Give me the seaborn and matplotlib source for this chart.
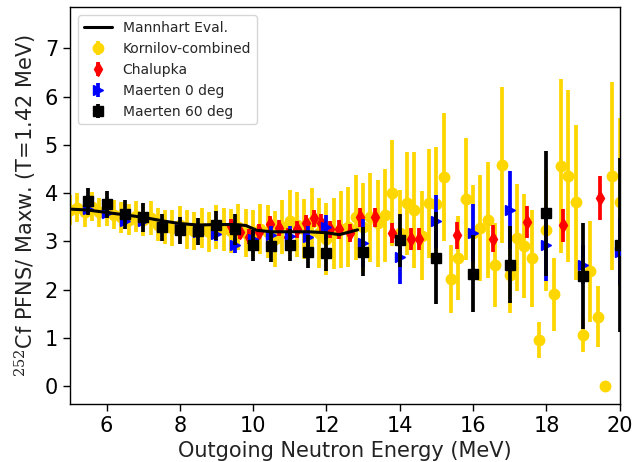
import numpy as np
import pandas as pd
import matplotlib
matplotlib.use("Agg")
import matplotlib.pyplot as plt
import seaborn as sns

# ---------------- data ----------------
mann_e = [5.0, 5.5, 6.0, 6.5, 7.0, 7.5, 8.0, 8.5, 9.0, 9.5, 9.8, 10.1, 10.5,
          11.0, 11.5, 12.0, 12.35, 12.85]
mann_r = [3.67, 3.65, 3.60, 3.55, 3.50, 3.43, 3.37, 3.34, 3.35, 3.35, 3.33, 3.23,
          3.20, 3.20, 3.20, 3.18, 3.14, 3.24]

korn_e = [5.0, 5.2, 5.4, 5.6, 5.8, 6.0, 6.2, 6.4, 6.6, 6.8, 7.0, 7.2, 7.4, 7.6, 7.8,
          8.0, 8.2, 8.4, 8.6, 8.8, 9.0, 9.2, 9.4, 9.6, 9.8, 10.0, 10.2, 10.4, 10.6,
          10.8, 11.0, 11.2, 11.4, 11.6, 11.8, 12.0, 12.2, 12.4, 12.6, 12.8, 13.0,
          13.2, 13.4, 13.6, 13.8, 14.0, 14.2, 14.4, 14.6, 14.8, 15.0, 15.2, 15.4,
          15.6, 15.8, 16.0, 16.2, 16.4, 16.6, 16.8, 17.0, 17.2, 17.4, 17.6, 17.8,
          18.0, 18.2, 18.4, 18.6, 18.8, 19.0, 19.2, 19.4, 19.6, 19.8, 20.0]
korn_r = [3.65, 3.70, 3.60, 3.72, 3.60, 3.62, 3.55, 3.50, 3.45, 3.52, 3.45, 3.48,
          3.35, 3.30, 3.28, 3.35, 3.25, 3.22, 3.28, 3.20, 3.30, 3.25, 3.22, 3.30,
          3.18, 3.15, 3.25, 3.20, 3.05, 3.30, 3.42, 3.35, 3.25, 3.40, 3.17, 3.05,
          3.17, 3.25, 3.30, 3.50, 3.29, 3.50, 3.38, 3.54, 4.00, 3.17, 3.79, 3.65,
          3.12, 3.79, 3.78, 4.33, 2.22, 2.66, 3.88, 3.17, 3.27, 3.44, 2.52, 4.58,
          2.31, 3.08, 2.90, 2.65, 0.96, 3.23, 1.90, 4.56, 4.35, 3.81, 1.06, 2.38,
          1.44, 0.00, 4.35, 3.81]
korn_err = [0.32, 0.30, 0.30, 0.30, 0.30, 0.30, 0.30, 0.32, 0.32, 0.32, 0.33, 0.35,
            0.35, 0.35, 0.37, 0.38, 0.40, 0.40, 0.42, 0.42, 0.45, 0.45, 0.45, 0.48,
            0.50, 0.50, 0.52, 0.55, 0.58, 0.56, 0.65, 0.68, 0.62, 0.70, 0.73, 0.75,
            0.74, 0.80, 0.82, 0.88, 0.93, 0.92, 0.90, 0.96, 1.10, 0.90, 1.07, 1.20,
            0.92, 1.13, 1.18, 1.33, 0.71, 0.87, 1.26, 1.00, 1.10, 1.20, 0.87, 1.62,
            0.80, 1.10, 1.08, 1.00, 0.38, 1.25, 0.75, 1.81, 1.78, 1.60, 0.35, 1.05,
            0.63, 0.00, 1.95, 1.75]

chal_e = [9.4, 9.65, 9.9, 10.15, 10.45, 10.7, 10.95, 11.2, 11.45, 11.65, 11.85,
          12.1, 12.35, 12.65, 12.92, 13.33, 13.8, 14.3, 14.52, 15.56, 16.54, 17.46,
          18.44, 19.45]
chal_r = [3.32, 3.20, 3.10, 3.20, 3.36, 3.28, 3.10, 3.25, 3.38, 3.48, 3.38, 3.25,
          3.25, 3.17, 3.50, 3.50, 3.17, 3.05, 3.05, 3.13, 3.06, 3.40, 3.33, 3.90]
chal_err = [0.15, 0.15, 0.15, 0.16, 0.16, 0.16, 0.17, 0.17, 0.17, 0.18, 0.18, 0.18,
            0.19, 0.19, 0.20, 0.20, 0.21, 0.22, 0.22, 0.28, 0.28, 0.33, 0.35, 0.45]

m0_e = [5.5, 6.0, 6.5, 7.0, 7.5, 8.0, 8.5, 9.0, 9.5, 10.0, 10.5, 11.0, 11.5, 12.0,
        13.0, 14.0, 15.0, 16.0, 17.0, 18.0, 19.0, 20.0]
m0_r = [3.68, 3.58, 3.42, 3.42, 3.30, 3.25, 3.20, 3.15, 2.92, 3.06, 3.14, 3.12,
        3.10, 3.30, 2.96, 2.67, 3.42, 3.17, 3.65, 2.92, 2.52, 2.79]
m0_err = [0.10, 0.10, 0.11, 0.11, 0.12, 0.12, 0.13, 0.14, 0.15, 0.17, 0.18, 0.20,
          0.22, 0.25, 0.50, 0.55, 0.55, 0.60, 0.80, 0.75, 0.40, 0.70]

m60_e = [5.5, 6.0, 6.5, 7.0, 7.5, 8.0, 8.5, 9.0, 9.5, 10.0, 10.5, 11.0, 11.5, 12.0,
         13.0, 14.0, 15.0, 16.0, 17.0, 18.0, 19.0, 20.0]
m60_r = [3.83, 3.77, 3.56, 3.50, 3.29, 3.23, 3.21, 3.33, 3.25, 2.92, 2.90, 2.92,
         2.79, 2.77, 2.79, 3.02, 2.65, 2.33, 2.52, 3.58, 2.29, 2.93]
m60_err = [0.28, 0.28, 0.30, 0.30, 0.28, 0.28, 0.28, 0.30, 0.32, 0.32, 0.32, 0.33,
           0.35, 0.38, 0.50, 0.55, 0.95, 0.80, 0.80, 1.30, 1.10, 1.80]

# ---------------- plot ----------------
sns.set_theme(style="ticks")
plt.rcParams["font.family"] = ["DejaVu Sans"]
plt.rcParams["mathtext.fontset"] = "dejavuserif"

fig = plt.figure(figsize=(6.35, 4.62), dpi=100)
ax = fig.add_axes([0.110, 0.1255, 0.866, 0.8595])

mann_df = pd.DataFrame({"E": mann_e, "R": mann_r})
sns.lineplot(data=mann_df, x="E", y="R", ax=ax, color="black", linewidth=2.2,
             label="Mannhart Eval.", zorder=4.5, sort=False)

ekw = dict(ls="none", elinewidth=2.7, capsize=0)
ax.errorbar(korn_e, korn_r, yerr=korn_err, fmt="o", color="gold", ms=7.5,
            label="Kornilov-combined", zorder=2, **ekw)
ax.errorbar(chal_e, chal_r, yerr=chal_err, fmt="d", color="red", ms=7.5,
            label="Chalupka", zorder=3, **ekw)
ax.errorbar(m0_e, m0_r, yerr=m0_err, fmt=">", color="blue", ms=7.5,
            label="Maerten 0 deg", zorder=4, **ekw)
ax.errorbar(m60_e, m60_r, yerr=m60_err, fmt="s", color="black", ms=7.5,
            label="Maerten 60 deg", zorder=5, **ekw)

ax.set_xlim(5, 20)
ax.set_ylim(-0.37, 7.86)
ax.set_xticks([6, 8, 10, 12, 14, 16, 18, 20])
ax.set_yticks([0, 1, 2, 3, 4, 5, 6, 7])
ax.tick_params(labelsize=15, length=5, width=1, color="black", labelcolor="black")
for s in ax.spines.values():
    s.set_color("black")
    s.set_linewidth(1.0)
ax.set_xlabel("Outgoing Neutron Energy (MeV)", fontsize=15, color="#222222")
ax.set_ylabel(r"$^{252}$Cf PFNS/ Maxw. (T=1.42 MeV)", fontsize=15, color="#222222",
              labelpad=4)

leg = ax.legend(loc="upper left", fontsize=10, frameon=True, borderaxespad=0.6)
leg.get_frame().set_edgecolor("#cccccc")

fig.savefig("out.png", dpi=100)
